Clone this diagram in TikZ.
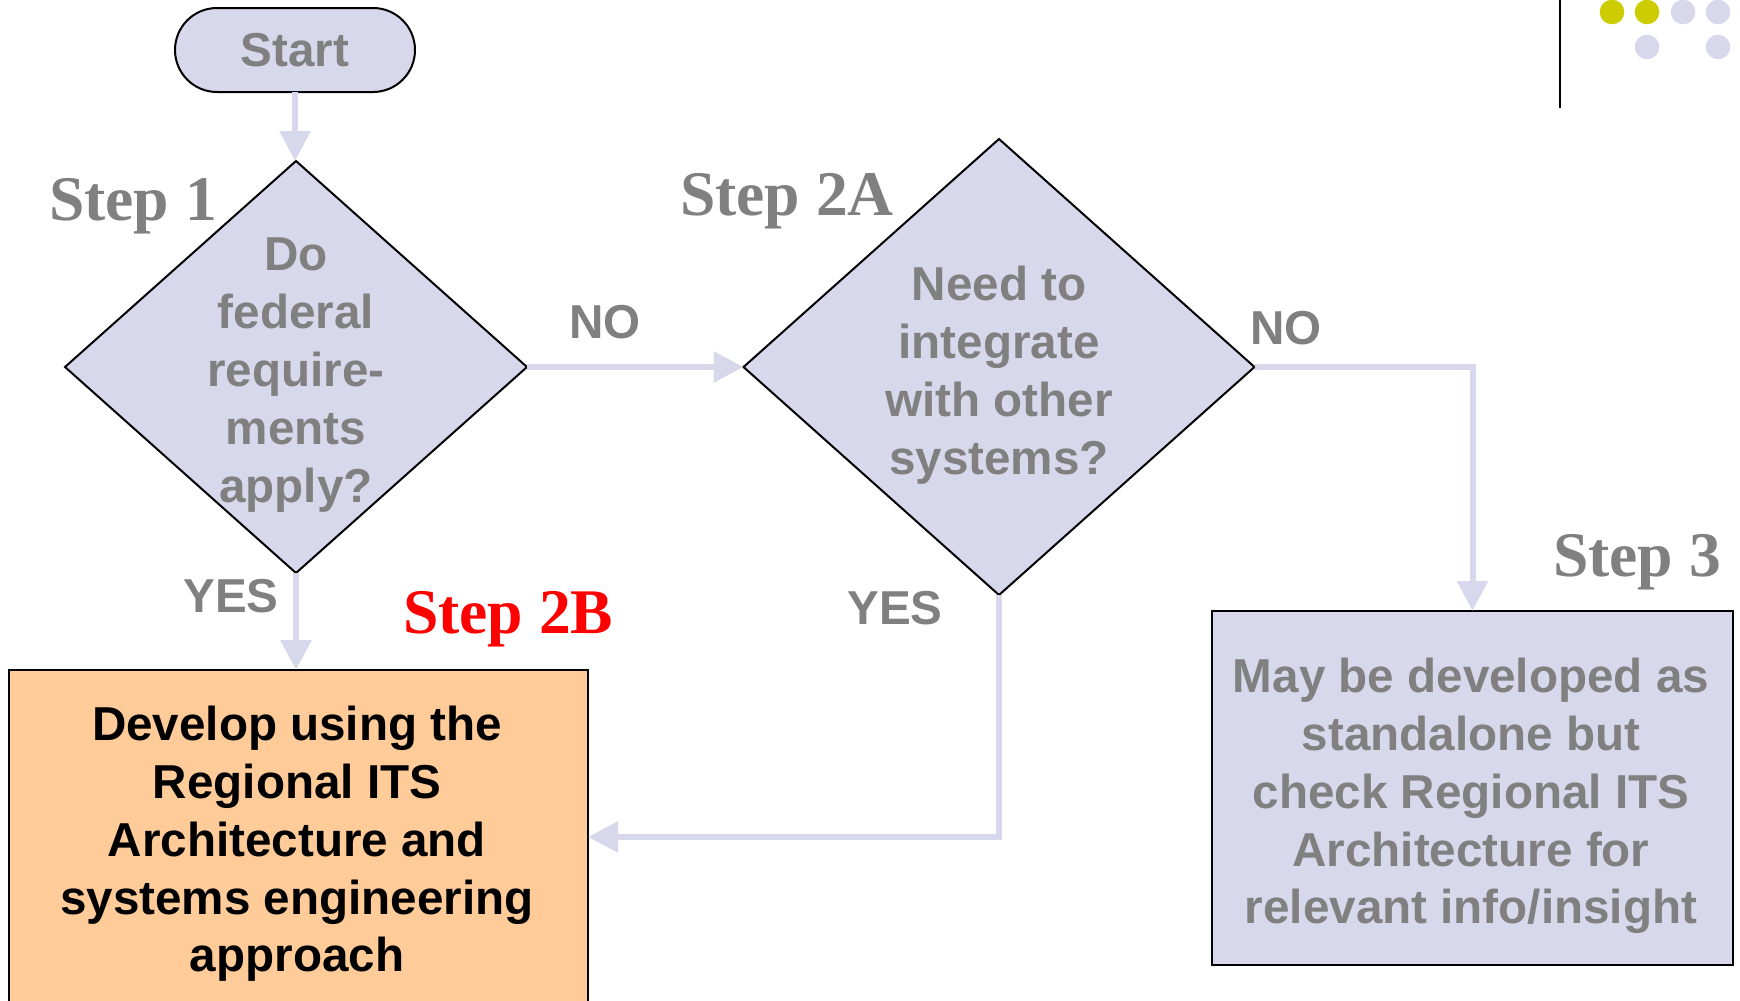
\documentclass[tikz,border=0pt]{standalone}
\usepackage{fontspec}
\setmainfont{Liberation Sans}
\newfontfamily\stepfont{Liberation Serif}
\usetikzlibrary{shapes.geometric,arrows.meta}
\definecolor{lav}{RGB}{216,216,236}
\definecolor{peach}{RGB}{255,204,153}
\definecolor{txtgray}{RGB}{128,128,128}
\definecolor{olive}{RGB}{204,204,0}
\begin{document}
\begin{tikzpicture}[x=0.5pt,y=-0.5pt,
  every node/.style={outer sep=0pt, inner sep=0pt},
  body/.style={font=\fontsize{23.8pt}{28.9pt}\selectfont\bfseries, align=center},
  decision/.style={diamond, draw=black, line width=1pt, fill=lav},
  boxed/.style={rectangle, draw=black, line width=1pt},
  flow/.style={draw=lav, line width=3pt, -{Triangle[width=15pt,length=15pt]}},
  steplabel/.style={font=\fontsize{31.8pt}{36pt}\selectfont\stepfont\bfseries, text=txtgray, anchor=base west},
  answer/.style={font=\fontsize{23.8pt}{28pt}\selectfont\bfseries, text=txtgray}
]
\clip (0,0) rectangle (1740,1001);

% corner ornament
\draw[line width=1.3pt] (1560,0) -- (1560,108);
\fill[olive] (1612,12) circle[radius=12.3];
\fill[olive] (1647,12) circle[radius=12.3];
\fill[lav] (1683,12) circle[radius=12.3];
\fill[lav] (1718,12) circle[radius=12.3];
\fill[lav] (1647,47) circle[radius=12.3];
\fill[lav] (1718,47) circle[radius=12.3];

% shapes
\node[draw=black, line width=1pt, fill=lav, rounded corners=21pt,
      minimum width=120pt, minimum height=42pt, body, text=txtgray] (start) at (295,50) {Start};
\node[decision, minimum width=231pt, minimum height=206pt] (d1) at (296,367) {};
\node[decision, minimum width=255.5pt, minimum height=228pt] (d2) at (999,367) {};
\node[boxed, fill=peach, minimum width=289.5pt, minimum height=167pt] (b2) at (298.5,837) {};
\node[boxed, fill=lav, minimum width=260.5pt, minimum height=177pt] (b3) at (1472.5,788) {};

% texts
\node[body, text=txtgray] (q1) at (296,375) {Do\\federal\\require-\\ments\\apply?};
\node[body, text=txtgray] (q2) at (999,375) {Need to\\integrate\\with other\\systems?};
\node[body, text=black] (t2b) at (297,844) {Develop using the\\Regional ITS\\Architecture and\\systems engineering\\approach};
\node[body, text=txtgray] (t3) at (1471,796) {May be developed as\\standalone but\\check Regional ITS\\Architecture for\\relevant info/insight};

% connectors
\draw[flow] (start.south) -- (start.south |- d1.north);
\draw[flow] (d1.east) -- (d2.west);
\draw[flow] (d1.south) -- (d1.south |- b2.north);
\draw[flow] (d2.east) -| (b3.north);
\draw[flow] (d2.south) |- (b2.east);

% answers
\node[answer] (no1) at (605,322) {NO};
\node[answer] (no2) at (1286,328) {NO};
\node[answer] (yes1) at (231,596) {YES};
\node[answer] (yes2) at (895,608) {YES};

% step labels
\node[steplabel] (s1) at (49,220) {Step 1};
\node[steplabel] (s2a) at (680,215) {Step 2A};
\node[steplabel, text=red] (s2b) at (403,633) {Step 2B};
\node[steplabel] (s3) at (1553,576) {Step 3};
\end{tikzpicture}
\end{document}
